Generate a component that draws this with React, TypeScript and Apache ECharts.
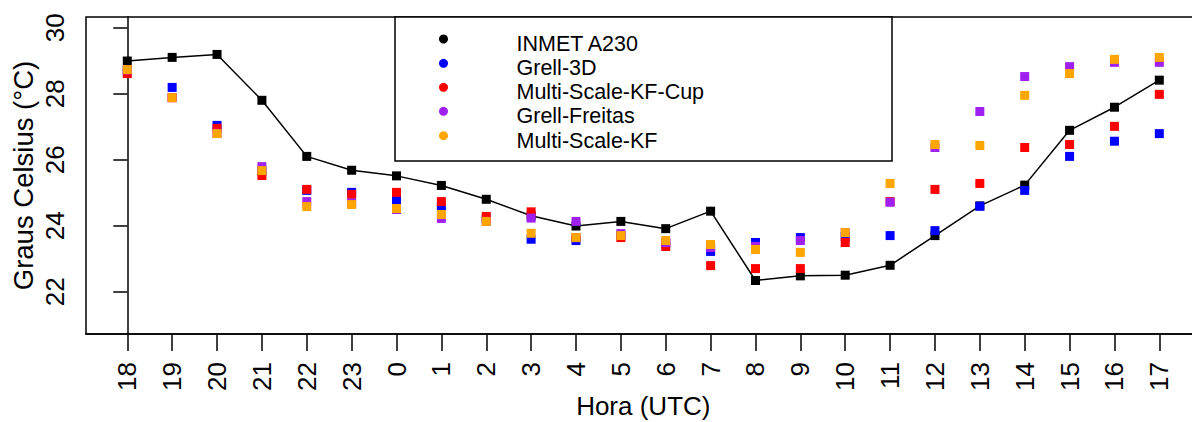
import React, { useEffect, useRef } from "react";
import * as echarts from "echarts";

const FONT = '"Liberation Sans", Arial, Helvetica, sans-serif';

const hours = [18, 19, 20, 21, 22, 23, 0, 1, 2, 3, 4, 5, 6, 7, 8, 9, 10, 11, 12, 13, 14, 15, 16, 17];

const seriesNames = ["INMET A230", "Grell-3D", "Multi-Scale-KF-Cup", "Grell-Freitas", "Multi-Scale-KF"];
const seriesColors = ["#000000", "#0000FF", "#FF0000", "#A020F0", "#FFA500"];

const inmetA230 = [28.99, 29.1, 29.19, 27.8, 26.1, 25.68, 25.51, 25.22, 24.8, 24.3, 23.99, 24.13, 23.91, 24.44, 22.34, 22.48, 22.5, 22.8, 23.7, 24.6, 25.23, 26.89, 27.59, 28.41];
const grell3D = [28.7, 28.19, 27.04, 25.65, 25.07, 25.01, 24.78, 24.58, 24.2, 23.59, 23.55, 23.7, 23.45, 23.22, 23.49, 23.64, 23.67, 23.7, 23.85, 24.59, 25.07, 26.1, 26.56, 26.79];
const multiScaleKFCup = [28.61, 27.88, 26.95, 25.52, 25.1, 24.95, 25.01, 24.73, 24.28, 24.42, 23.64, 23.64, 23.37, 22.79, 22.7, 22.7, 23.49, 24.73, 25.1, 25.28, 26.37, 26.46, 27.01, 27.98];
const grellFreitas = [28.72, 27.88, 26.8, 25.79, 24.73, 24.69, 24.49, 24.22, 24.13, 24.23, 24.13, 23.76, 23.49, 23.34, 23.37, 23.55, 23.79, 24.71, 26.37, 27.46, 28.52, 28.82, 28.95, 28.95];
const multiScaleKF = [28.73, 27.88, 26.79, 25.67, 24.58, 24.64, 24.52, 24.34, 24.13, 23.77, 23.64, 23.7, 23.55, 23.43, 23.28, 23.19, 23.79, 25.28, 26.46, 26.43, 27.95, 28.61, 29.04, 29.1];

const yTicks = [22, 24, 26, 28, 30];

export default function App() {
  const ref = useRef<HTMLDivElement>(null);

  useEffect(() => {
    if (!ref.current) return;
    const chart = echarts.init(ref.current, null, { renderer: "svg" });
    const idx = hours.map((_, i) => i);
    const toPts = (arr: number[]) => arr.map((v, i) => [i, v]);
    const modelData = [grell3D, multiScaleKFCup, grellFreitas, multiScaleKF];

    const legendTop = 17;
    const legendLeft = 395;
    const rowY = [39, 63.3, 87.3, 111.3, 135.7];
    const legendGraphics: any[] = [
      {
        type: "rect",
        shape: { x: legendLeft, y: legendTop, width: 497, height: 144 },
        style: { fill: "#fff", stroke: "#000", lineWidth: 1.5 },
        z: 100,
      },
    ];
    seriesNames.forEach((name, i) => {
      legendGraphics.push({
        type: "circle",
        shape: { cx: 443.5, cy: rowY[i], r: 4.5 },
        style: { fill: seriesColors[i] },
        z: 101,
      });
      legendGraphics.push({
        type: "text",
        x: 516.5,
        y: rowY[i] + 5,
        style: {
          text: name,
          fill: "#000",
          font: `21.5px ${FONT}`,
          verticalAlign: "middle",
          align: "left",
        },
        z: 101,
      });
    });

    const option: any = {
      animation: false,
      backgroundColor: "#ffffff",
      textStyle: { fontFamily: FONT },
      grid: {
        left: 86,
        top: 17,
        bottom: 88,
        right: -8.6,
        show: true,
        borderColor: "#000",
        borderWidth: 1.5,
        backgroundColor: "transparent",
        containLabel: false,
        outerBoundsMode: "none",
      },
      xAxis: {
        type: "value",
        min: -0.92,
        max: 23.92,
        axisLine: { show: true, onZero: false, lineStyle: { color: "#000", width: 1.5 } },
        axisTick: { show: true, customValues: idx, length: 17, lineStyle: { color: "#000", width: 1.5 } },
        axisLabel: {
          customValues: idx,
          rotate: 90,
          margin: 28,
          fontSize: 26,
          color: "#000",
          fontFamily: FONT,
          formatter: (v: number) => String(hours[Math.round(v)]),
        },
        splitLine: { show: false },
        name: "Hora (UTC)",
        nameLocation: "middle",
        nameGap: 59,
        nameMoveOverlap: false,
        nameTextStyle: { fontSize: 26, color: "#000", fontFamily: FONT },
      },
      yAxis: {
        type: "value",
        min: 20.718,
        max: 30.324,
        axisLine: { show: true, lineStyle: { color: "#000", width: 1.5 } },
        axisTick: { show: true, customValues: yTicks, length: 14, lineStyle: { color: "#000", width: 1.5 } },
        axisLabel: {
          customValues: yTicks,
          rotate: 90,
          margin: 18,
          fontSize: 26,
          color: "#000",
          fontFamily: FONT,
        },
        splitLine: { show: false },
        name: "Graus Celsius (°C)",
        nameLocation: "middle",
        nameGap: 49,
        nameMoveOverlap: false,
        nameTextStyle: { fontSize: 27.5, color: "#000", fontFamily: FONT },
      },
      series: [
        {
          name: seriesNames[0],
          type: "line",
          data: toPts(inmetA230),
          symbol: "rect",
          symbolSize: 9,
          showAllSymbol: true,
          itemStyle: { color: seriesColors[0] },
          lineStyle: { color: "#000", width: 1.5 },
          z: 2,
        },
        ...modelData.map((arr, k) => ({
          name: seriesNames[k + 1],
          type: "scatter",
          data: toPts(arr),
          symbol: "rect",
          symbolSize: 9,
          itemStyle: { color: seriesColors[k + 1], opacity: 1 },
          z: 3 + k,
        })),
      ],
      graphic: legendGraphics,
    };
    chart.setOption(option);
    return () => chart.dispose();
  }, []);

  return (
    <div
      ref={ref}
      style={{ position: "absolute", left: 0, top: 0, width: 1192, height: 422, background: "#fff" }}
    />
  );
}
